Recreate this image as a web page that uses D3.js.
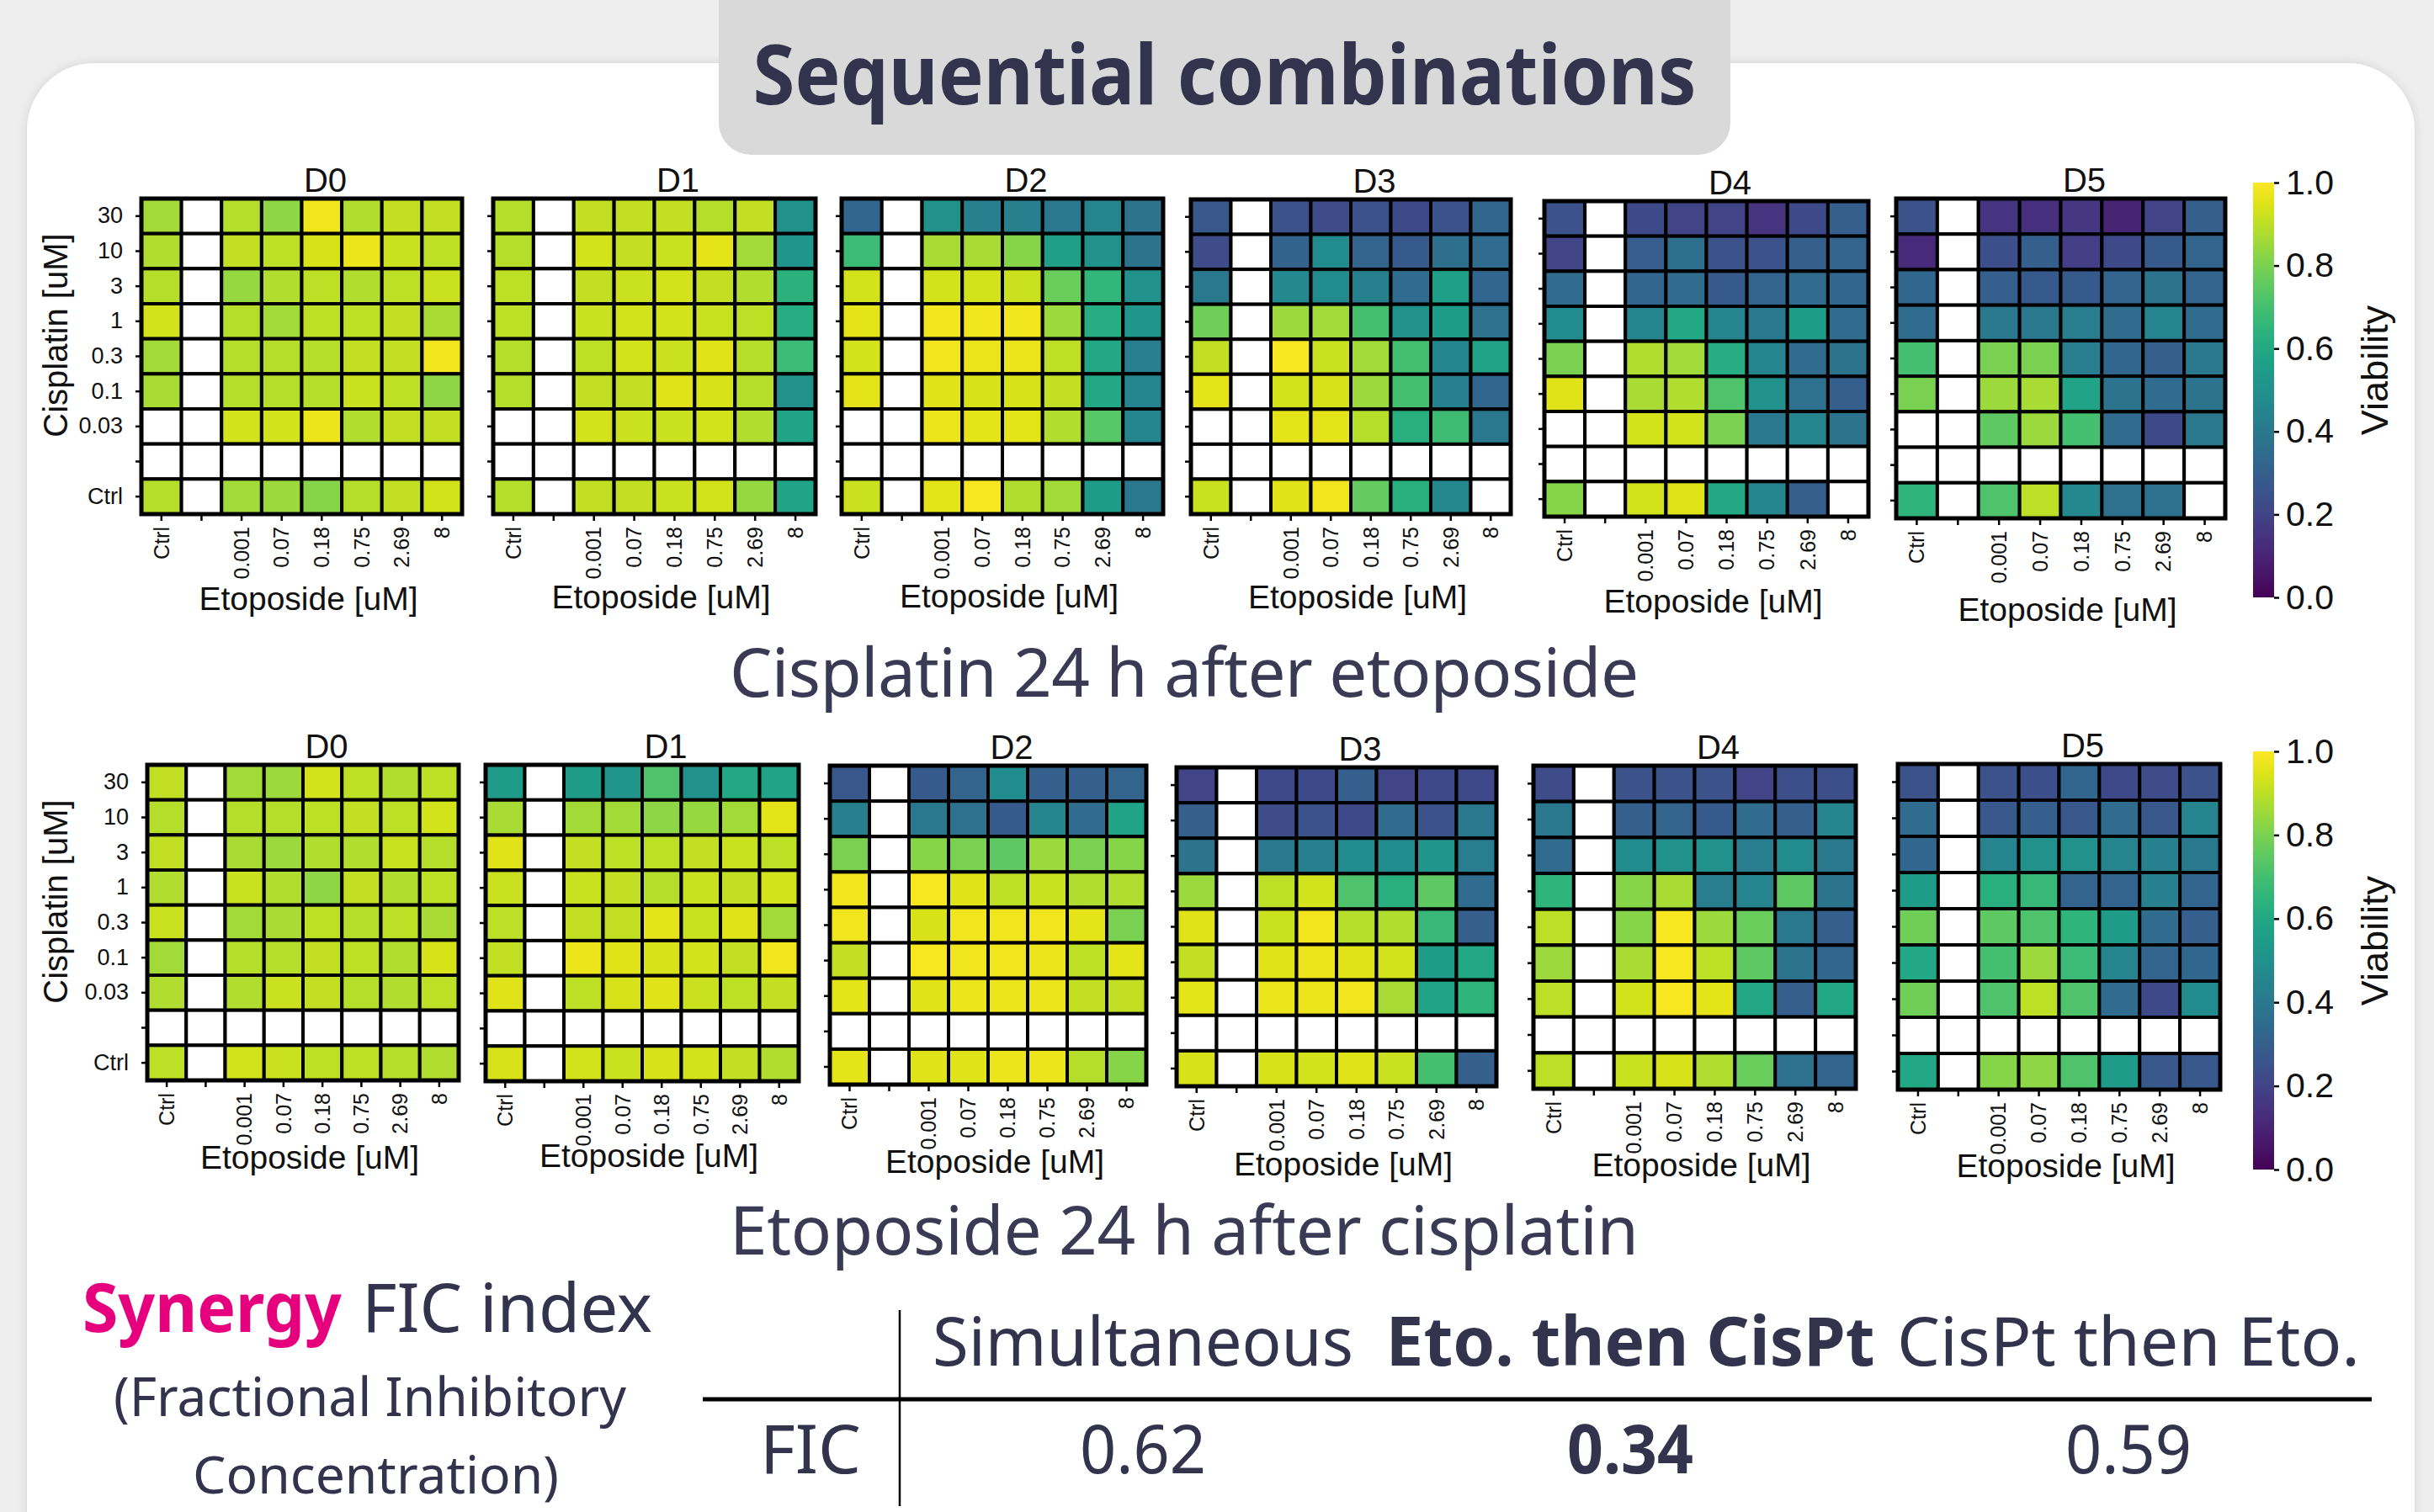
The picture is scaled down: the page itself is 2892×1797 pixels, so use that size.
<!DOCTYPE html>
<html>
<head>
<meta charset="utf-8">
<script src="https://cdn.jsdelivr.net/npm/d3@7"></script>
<style>
  body { margin: 0; background: #eeeeee; }
  svg { display: block; }
</style>
</head>
<body>
<svg id="chart" width="2892" height="1797"></svg>
<script>
// Labels
const rowLabels = ["30", "10", "3", "1", "0.3", "0.1", "0.03", "", "Ctrl"];   // cisplatin [uM]
const colLabels = ["Ctrl", "", "0.001", "0.07", "0.18", "0.75", "2.69", "8"]; // etoposide [uM]
const days = ["D0", "D1", "D2", "D3", "D4", "D5"];
const cbarTicks = [0, 0.2, 0.4, 0.6, 0.8, 1.0];
const _ = null; // empty (white) well

// Cisplatin 24 h after etoposide (viability, rows 30 -> Ctrl)
const cisAfterEtoD0 = [
  [0.86,_,0.89,0.83,0.98,0.88,0.91,0.91],
  [0.88,_,0.91,0.90,0.94,0.97,0.92,0.90],
  [0.89,_,0.84,0.88,0.90,0.88,0.90,0.92],
  [0.93,_,0.89,0.86,0.90,0.90,0.91,0.87],
  [0.86,_,0.89,0.89,0.89,0.91,0.91,0.98],
  [0.87,_,0.89,0.89,0.89,0.92,0.90,0.83],
  [_,_,0.93,0.93,0.97,0.88,0.91,0.91],
  [_,_,_,_,_,_,_,_],
  [0.89,_,0.86,0.85,0.82,0.89,0.91,0.93]
];
const cisAfterEtoD1 = [
  [0.89,_,0.91,0.91,0.91,0.89,0.91,0.50],
  [0.89,_,0.93,0.91,0.92,0.96,0.86,0.52],
  [0.90,_,0.91,0.92,0.93,0.91,0.88,0.64],
  [0.90,_,0.92,0.93,0.93,0.92,0.90,0.62],
  [0.89,_,0.90,0.93,0.92,0.95,0.89,0.68],
  [0.89,_,0.91,0.91,0.95,0.94,0.89,0.50],
  [_,_,0.93,0.92,0.92,0.93,0.88,0.58],
  [_,_,_,_,_,_,_,_],
  [0.89,_,0.91,0.91,0.92,0.93,0.84,0.58]
];
const cisAfterEtoD2 = [
  [0.33,_,0.50,0.43,0.43,0.40,0.45,0.38],
  [0.68,_,0.87,0.87,0.82,0.56,0.50,0.38],
  [0.93,_,0.93,0.93,0.92,0.77,0.66,0.50],
  [0.96,_,0.98,0.98,0.98,0.85,0.62,0.52],
  [0.93,_,0.98,0.97,0.97,0.90,0.60,0.42],
  [0.96,_,0.95,0.94,0.94,0.91,0.60,0.45],
  [_,_,0.97,0.96,0.96,0.88,0.74,0.45],
  [_,_,_,_,_,_,_,_],
  [0.92,_,0.96,0.99,0.88,0.86,0.55,0.40]
];
const cisAfterEtoD3 = [
  [0.27,_,0.25,0.23,0.25,0.22,0.25,0.33],
  [0.23,_,0.31,0.48,0.32,0.28,0.36,0.35],
  [0.40,_,0.47,0.48,0.43,0.35,0.56,0.33],
  [0.78,_,0.85,0.86,0.70,0.50,0.55,0.37],
  [0.91,_,0.99,0.92,0.86,0.70,0.46,0.58],
  [0.96,_,0.93,0.94,0.85,0.70,0.43,0.33],
  [_,_,0.96,0.96,0.89,0.63,0.69,0.40],
  [_,_,_,_,_,_,_,_],
  [0.92,_,0.95,0.98,0.76,0.63,0.47,_]
];
const cisAfterEtoD4 = [
  [0.25,_,0.22,0.20,0.20,0.15,0.22,0.30],
  [0.20,_,0.29,0.36,0.25,0.25,0.30,0.32],
  [0.35,_,0.33,0.35,0.28,0.32,0.35,0.33],
  [0.48,_,0.45,0.60,0.45,0.40,0.55,0.35],
  [0.80,_,0.88,0.86,0.62,0.45,0.35,0.38],
  [0.95,_,0.87,0.88,0.72,0.50,0.37,0.30],
  [_,_,0.93,0.93,0.80,0.40,0.45,0.38],
  [_,_,_,_,_,_,_,_],
  [0.82,_,0.93,0.95,0.60,0.45,0.30,_]
];
const cisAfterEtoD5 = [
  [0.25,_,0.15,0.14,0.16,0.10,0.20,0.30],
  [0.12,_,0.24,0.30,0.18,0.22,0.28,0.32],
  [0.33,_,0.30,0.28,0.28,0.32,0.38,0.32],
  [0.35,_,0.40,0.40,0.42,0.35,0.45,0.35],
  [0.70,_,0.80,0.80,0.42,0.33,0.30,0.40],
  [0.80,_,0.85,0.87,0.58,0.38,0.35,0.38],
  [_,_,0.75,0.85,0.70,0.35,0.22,0.40],
  [_,_,_,_,_,_,_,_],
  [0.65,_,0.72,0.90,0.47,0.37,0.37,_]
];

// Etoposide 24 h after cisplatin
const etoAfterCisD0 = [
  [0.91,_,0.86,0.85,0.93,0.90,0.88,0.90],
  [0.89,_,0.89,0.89,0.90,0.91,0.90,0.93],
  [0.91,_,0.87,0.85,0.88,0.88,0.92,0.89],
  [0.88,_,0.92,0.88,0.83,0.91,0.88,0.90],
  [0.92,_,0.86,0.87,0.90,0.89,0.90,0.87],
  [0.86,_,0.89,0.89,0.91,0.90,0.88,0.94],
  [0.88,_,0.88,0.92,0.91,0.89,0.88,0.90],
  [_,_,_,_,_,_,_,_],
  [0.90,_,0.93,0.92,0.90,0.90,0.89,0.88]
];
const etoAfterCisD1 = [
  [0.55,_,0.55,0.52,0.72,0.50,0.60,0.58],
  [0.87,_,0.86,0.86,0.83,0.84,0.86,0.96],
  [0.95,_,0.91,0.90,0.90,0.91,0.92,0.90],
  [0.92,_,0.92,0.91,0.89,0.92,0.91,0.93],
  [0.90,_,0.91,0.91,0.96,0.92,0.95,0.86],
  [0.91,_,0.97,0.95,0.94,0.93,0.91,0.98],
  [0.95,_,0.90,0.94,0.95,0.92,0.90,0.91],
  [_,_,_,_,_,_,_,_],
  [0.94,_,0.93,0.92,0.94,0.93,0.91,0.88]
];
const etoAfterCisD2 = [
  [0.27,_,0.28,0.32,0.48,0.30,0.30,0.32],
  [0.43,_,0.40,0.37,0.28,0.45,0.35,0.58],
  [0.80,_,0.82,0.80,0.75,0.85,0.80,0.82],
  [0.98,_,0.99,0.95,0.90,0.92,0.88,0.88],
  [0.98,_,0.94,0.98,0.98,0.98,0.96,0.80],
  [0.91,_,0.99,0.98,0.98,0.97,0.90,0.96],
  [0.96,_,0.95,0.97,0.97,0.97,0.91,0.91],
  [_,_,_,_,_,_,_,_],
  [0.96,_,0.95,0.95,0.97,0.97,0.89,0.82]
];
const etoAfterCisD3 = [
  [0.20,_,0.22,0.22,0.30,0.20,0.22,0.22],
  [0.30,_,0.23,0.25,0.22,0.35,0.25,0.40],
  [0.38,_,0.40,0.43,0.48,0.48,0.52,0.42],
  [0.85,_,0.90,0.93,0.72,0.63,0.75,0.35],
  [0.95,_,0.92,0.98,0.89,0.88,0.67,0.30],
  [0.91,_,0.95,0.97,0.95,0.93,0.55,0.60],
  [0.96,_,0.97,0.97,0.98,0.87,0.58,0.65],
  [_,_,_,_,_,_,_,_],
  [0.94,_,0.94,0.93,0.95,0.92,0.70,0.30]
];
const etoAfterCisD4 = [
  [0.23,_,0.25,0.25,0.25,0.20,0.24,0.24],
  [0.40,_,0.30,0.32,0.28,0.35,0.30,0.45],
  [0.35,_,0.48,0.50,0.50,0.42,0.48,0.40],
  [0.65,_,0.82,0.87,0.42,0.45,0.75,0.38],
  [0.90,_,0.82,0.99,0.85,0.77,0.40,0.30],
  [0.85,_,0.87,0.99,0.90,0.75,0.38,0.33],
  [0.90,_,0.93,0.99,0.96,0.60,0.30,0.60],
  [_,_,_,_,_,_,_,_],
  [0.90,_,0.92,0.94,0.88,0.77,0.37,0.32]
];
const etoAfterCisD5 = [
  [0.25,_,0.25,0.24,0.33,0.22,0.23,0.25],
  [0.35,_,0.27,0.30,0.27,0.35,0.27,0.45],
  [0.33,_,0.45,0.50,0.50,0.45,0.43,0.40],
  [0.55,_,0.63,0.67,0.32,0.32,0.43,0.32],
  [0.78,_,0.75,0.72,0.65,0.55,0.35,0.30],
  [0.60,_,0.70,0.85,0.68,0.45,0.32,0.33],
  [0.78,_,0.72,0.90,0.72,0.35,0.22,0.48],
  [_,_,_,_,_,_,_,_],
  [0.60,_,0.82,0.83,0.72,0.55,0.27,0.27]
];

// FIC table
const ficHeaders = ["Simultaneous", "Eto. then CisPt", "CisPt then Eto."];
const ficValues = [0.62, 0.34, 0.59];
const ficBest = 1;

// ---- layout ----
const topPanels = [
  {x0: 168, x1: 549, y0: 236, y1: 611, ly: 725},
  {x0: 586, x1: 969, y0: 236, y1: 611, ly: 723},
  {x0: 1000, x1: 1382, y0: 236, y1: 611, ly: 722},
  {x0: 1415, x1: 1795, y0: 237, y1: 611, ly: 723},
  {x0: 1835, x1: 2220, y0: 239, y1: 614, ly: 728},
  {x0: 2253, x1: 2644, y0: 236, y1: 616, ly: 738}
];
const botPanels = [
  {x0: 175, x1: 545, y0: 909, y1: 1284, ly: 1389},
  {x0: 577, x1: 949, y0: 909, y1: 1285, ly: 1387},
  {x0: 986, x1: 1362, y0: 910, y1: 1289, ly: 1394},
  {x0: 1398, x1: 1778, y0: 912, y1: 1291, ly: 1397},
  {x0: 1822, x1: 2205, y0: 910, y1: 1294, ly: 1398},
  {x0: 2255, x1: 2638, y0: 908, y1: 1295, ly: 1399}
];

const DARK = "#33334d";
const SANS = "'Noto Sans', 'Open Sans', sans-serif";
const ARIAL = "'Liberation Sans', Arial, sans-serif";

const color = d3.scaleSequential(d3.interpolateViridis).domain([0, 1]);
const svg = d3.select("#chart");

// background card
const defs = svg.append("defs");
const shadow = defs.append("filter").attr("id", "shadow")
  .attr("x", "-5%").attr("y", "-5%").attr("width", "110%").attr("height", "110%");
shadow.append("feDropShadow").attr("dx", 0).attr("dy", 0)
  .attr("stdDeviation", 6).attr("flood-color", "#000").attr("flood-opacity", 0.12);

svg.append("rect").attr("width", 2892).attr("height", 1797).attr("fill", "#eeeeee");
svg.append("rect")
  .attr("x", 32).attr("y", 75).attr("width", 2837).attr("height", 1800)
  .attr("rx", 80).attr("fill", "#fff").attr("filter", "url(#shadow)");

// title box
svg.append("rect")
  .attr("x", 854).attr("y", -40).attr("width", 1202).attr("height", 224)
  .attr("rx", 38).attr("fill", "#d9d9d9");
svg.append("text")
  .attr("x", 1455).attr("y", 124)
  .attr("text-anchor", "middle")
  .attr("font-family", SANS).attr("font-weight", 700).attr("font-size", 98)
  .attr("textLength", 1121).attr("lengthAdjust", "spacingAndGlyphs")
  .attr("fill", DARK)
  .text("Sequential combinations");

function drawPanel(values, day, box, showY) {
  const g = svg.append("g");
  const x = d3.scaleBand().domain(d3.range(colLabels.length)).range([box.x0, box.x1]);
  const y = d3.scaleBand().domain(d3.range(rowLabels.length)).range([box.y0, box.y1]);

  const cells = [];
  values.forEach((row, i) => row.forEach((v, j) => cells.push({i: i, j: j, v: v})));

  g.selectAll("rect.cell")
    .data(cells)
    .join("rect")
      .attr("class", "cell")
      .attr("x", d => x(d.j))
      .attr("y", d => y(d.i))
      .attr("width", x.bandwidth())
      .attr("height", y.bandwidth())
      .attr("fill", d => d.v == null ? "#fff" : color(d.v))
      .attr("stroke", "#000")
      .attr("stroke-width", 4);

  g.append("rect")
    .attr("x", box.x0).attr("y", box.y0)
    .attr("width", box.x1 - box.x0).attr("height", box.y1 - box.y0)
    .attr("fill", "none").attr("stroke", "#000").attr("stroke-width", 5);

  // y axis
  const ya = g.append("g")
    .attr("transform", `translate(${box.x0 - 2},0)`)
    .call(d3.axisLeft(y).tickSize(5).tickPadding(15)
      .tickFormat(i => showY ? rowLabels[i] : ""));
  ya.select(".domain").remove();
  ya.attr("font-family", ARIAL).attr("font-size", 27);
  ya.selectAll("line").attr("stroke", "#000").attr("stroke-width", 2.5);
  ya.selectAll("text").attr("fill", "#111");

  // x axis
  const xa = g.append("g")
    .attr("transform", `translate(0,${box.y1 + 2})`)
    .call(d3.axisBottom(x).tickSize(6).tickFormat(i => colLabels[i]));
  xa.select(".domain").remove();
  xa.attr("font-family", ARIAL).attr("font-size", 25);
  xa.selectAll("line").attr("stroke", "#000").attr("stroke-width", 2.5);
  xa.selectAll("text")
    .attr("fill", "#111")
    .attr("transform", "rotate(-90)")
    .attr("text-anchor", "end")
    .attr("x", -13)
    .attr("y", 0)
    .attr("dy", "0.35em");

  // panel title
  g.append("text")
    .attr("x", (box.x0 + box.x1) / 2 + 28)
    .attr("y", box.y0 - 8)
    .attr("text-anchor", "middle")
    .attr("font-family", ARIAL).attr("font-size", 40).attr("fill", "#111")
    .text(day);

  // x label
  g.append("text")
    .attr("x", (box.x0 + box.x1) / 2 + 8)
    .attr("y", box.ly)
    .attr("text-anchor", "middle")
    .attr("font-family", ARIAL).attr("font-size", 39).attr("fill", "#111")
    .text("Etoposide [uM]");

  if (showY) {
    g.append("text")
      .attr("transform", `translate(80,${(box.y0 + box.y1) / 2 - 25}) rotate(-90)`)
      .attr("text-anchor", "middle")
      .attr("font-family", ARIAL).attr("font-size", 40).attr("fill", "#111")
      .text("Cisplatin [uM]");
  }
}

function drawColorbar(id, x0, y0, y1, labelY) {
  const grad = defs.append("linearGradient").attr("id", id)
    .attr("x1", 0).attr("y1", 1).attr("x2", 0).attr("y2", 0);
  d3.range(0, 1.0001, 0.05).forEach(t => {
    grad.append("stop").attr("offset", t).attr("stop-color", color(t));
  });
  svg.append("rect")
    .attr("x", x0).attr("y", y0).attr("width", 25).attr("height", y1 - y0)
    .attr("fill", `url(#${id})`);
  const s = d3.scaleLinear().domain([0, 1]).range([y1, y0]);
  const ax = svg.append("g")
    .attr("transform", `translate(${x0 + 25},0)`)
    .call(d3.axisRight(s).tickValues(cbarTicks).tickFormat(d3.format(".1f")).tickSize(6).tickPadding(8));
  ax.select(".domain").remove();
  ax.attr("font-family", ARIAL).attr("font-size", 41);
  ax.selectAll("line").attr("stroke", "#000").attr("stroke-width", 2.5);
  ax.selectAll("text").attr("fill", "#111");
  svg.append("text")
    .attr("transform", `translate(2837,${labelY}) rotate(-90)`)
    .attr("text-anchor", "middle")
    .attr("font-family", ARIAL).attr("font-size", 45).attr("fill", "#111")
    .text("Viability");
}

const topData = [cisAfterEtoD0, cisAfterEtoD1, cisAfterEtoD2, cisAfterEtoD3, cisAfterEtoD4, cisAfterEtoD5];
const botData = [etoAfterCisD0, etoAfterCisD1, etoAfterCisD2, etoAfterCisD3, etoAfterCisD4, etoAfterCisD5];

topData.forEach((m, k) => drawPanel(m, days[k], topPanels[k], k === 0));
botData.forEach((m, k) => drawPanel(m, days[k], botPanels[k], k === 0));

drawColorbar("cbarTop", 2677, 217, 710, 440);
drawColorbar("cbarBot", 2677, 893, 1390, 1118);

// section captions
function caption(txt, y) {
  svg.append("text")
    .attr("x", 1407).attr("y", y)
    .attr("text-anchor", "middle")
    .attr("font-family", SANS).attr("font-size", 80).attr("fill", "#3a3a55")
    .attr("textLength", 1080).attr("lengthAdjust", "spacing")
    .text(txt);
}
caption("Cisplatin 24 h after etoposide", 828);
caption("Etoposide 24 h after cisplatin", 1491);

// Synergy block
svg.append("text")
  .attr("x", 98).attr("y", 1583)
  .attr("font-family", SANS).attr("font-weight", 700).attr("font-size", 80)
  .attr("fill", "#e6007e")
  .attr("textLength", 308).attr("lengthAdjust", "spacingAndGlyphs")
  .text("Synergy");
svg.append("text")
  .attr("x", 430).attr("y", 1583)
  .attr("font-family", SANS).attr("font-size", 80).attr("fill", DARK)
  .attr("textLength", 345).attr("lengthAdjust", "spacingAndGlyphs")
  .text("FIC index");
svg.append("text")
  .attr("x", 135).attr("y", 1683)
  .attr("font-family", SANS).attr("font-size", 63).attr("fill", DARK)
  .attr("textLength", 609).attr("lengthAdjust", "spacingAndGlyphs")
  .text("(Fractional Inhibitory");
svg.append("text")
  .attr("x", 229).attr("y", 1775)
  .attr("font-family", SANS).attr("font-size", 62).attr("fill", DARK)
  .attr("textLength", 435).attr("lengthAdjust", "spacingAndGlyphs")
  .text("Concentration)");

// FIC table
const colX = d3.scaleOrdinal().domain(d3.range(ficHeaders.length)).range([1358, 1937, 2529]);
const headW = [500, 581, 550];
svg.append("line").attr("x1", 835).attr("x2", 2818).attr("y1", 1663).attr("y2", 1663)
  .attr("stroke", "#000").attr("stroke-width", 5);
svg.append("line").attr("x1", 1069).attr("x2", 1069).attr("y1", 1557).attr("y2", 1790)
  .attr("stroke", "#000").attr("stroke-width", 2.5);

svg.selectAll("text.head")
  .data(ficHeaders)
  .join("text")
    .attr("class", "head")
    .attr("x", (d, i) => colX(i)).attr("y", 1623)
    .attr("text-anchor", "middle")
    .attr("font-family", SANS).attr("font-size", 80).attr("fill", DARK)
    .attr("font-weight", (d, i) => i === ficBest ? 700 : 400)
    .attr("textLength", (d, i) => headW[i]).attr("lengthAdjust", "spacingAndGlyphs")
    .text(d => d);

svg.append("text")
  .attr("x", 963).attr("y", 1751)
  .attr("text-anchor", "middle")
  .attr("font-family", SANS).attr("font-size", 80).attr("fill", DARK)
  .attr("textLength", 120).attr("lengthAdjust", "spacingAndGlyphs")
  .text("FIC");

svg.selectAll("text.val")
  .data(ficValues)
  .join("text")
    .attr("class", "val")
    .attr("x", (d, i) => colX(i)).attr("y", 1751)
    .attr("text-anchor", "middle")
    .attr("font-family", SANS).attr("font-size", 80).attr("fill", DARK)
    .attr("font-weight", (d, i) => i === ficBest ? 700 : 400)
    .attr("textLength", 150).attr("lengthAdjust", "spacingAndGlyphs")
    .text(d => d3.format(".2f")(d));
</script>
</body>
</html>
